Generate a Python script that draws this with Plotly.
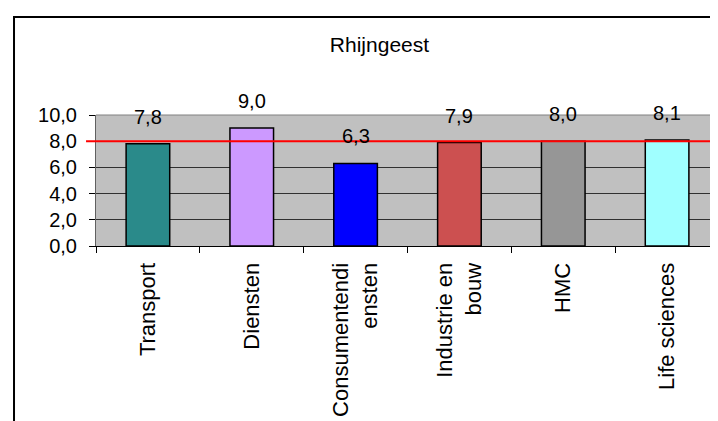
import plotly.graph_objects as go

# Gegevens
categories = ["Transport", "Diensten", "Consumentendi<br>ensten", "Industrie en<br>bouw", "HMC", "Life sciences"]
scores = [7.8, 9.0, 6.3, 7.9, 8.0, 8.1]
bar_colors = ["#2A8A8A", "#CC99FF", "#0000FF", "#CC5050", "#969696", "#A0FFFF"]
norm_value = 8.0
y_ticks = [0, 2, 4, 6, 8, 10]

FONT = "Liberation Sans, Arial, sans-serif"

fig = go.Figure()
fig.add_trace(
    go.Bar(
        x=categories,
        y=scores,
        width=0.42,
        marker=dict(color=bar_colors, line=dict(color="black", width=1.5)),
        showlegend=False,
        hoverinfo="skip",
    )
)

# Waardelabels boven de staven
for cat, val in zip(categories, scores):
    fig.add_annotation(
        x=cat, y=val, text=f"{val:.1f}".replace(".", ","),
        showarrow=False, yshift=27, yanchor="middle",
        font=dict(family=FONT, size=20, color="black"),
    )

# Rode normlijn
fig.add_shape(
    type="line", xref="paper", yref="y",
    x0=-0.016, x1=0.992, y0=norm_value, y1=norm_value,
    line=dict(color="#FF0000", width=2), layer="above",
)
# Grijze bovenrand plotgebied
fig.add_shape(
    type="line", xref="paper", yref="paper",
    x0=0, x1=1, y0=1, y1=1,
    line=dict(color="#808080", width=1), layer="above",
)
# Kader rond grafiek
fig.add_shape(
    type="rect", xref="paper", yref="paper",
    x0=-0.1316, x1=1.03, y0=-1.5, y1=1.748,
    line=dict(color="black", width=2), layer="below",
)

fig.update_xaxes(
    type="category",
    tickangle=-90,
    ticks="outside", ticklen=6, tickcolor="black", tickson="boundaries",
    ticklabelstandoff=7,
    showline=True, linecolor="black", linewidth=1,
    showgrid=False,
    tickfont=dict(family=FONT, size=22, color="black"),
)
fig.update_yaxes(
    range=[0, 10],
    tickvals=y_ticks,
    tickformat=".1f",
    ticks="outside", ticklen=6, tickcolor="black",
    ticklabelstandoff=8,
    showline=True, linecolor="#606060", linewidth=1, mirror=True,
    showgrid=True, gridcolor="#303030", gridwidth=1,
    zeroline=False,
    tickfont=dict(family=FONT, size=20, color="black"),
)

fig.update_layout(
    width=718, height=421,
    margin=dict(l=88, r=7, t=107, b=183),
    paper_bgcolor="white",
    plot_bgcolor="#C0C0C0",
    separators=",.",
    bargap=0.58,
    title=dict(
        text="Rhijngeest", x=0.455, xref="paper", xanchor="center",
        y=0.912, yref="container", yanchor="middle",
        font=dict(family=FONT, size=21, color="black"),
    ),
)

fig.write_html("out.html")
